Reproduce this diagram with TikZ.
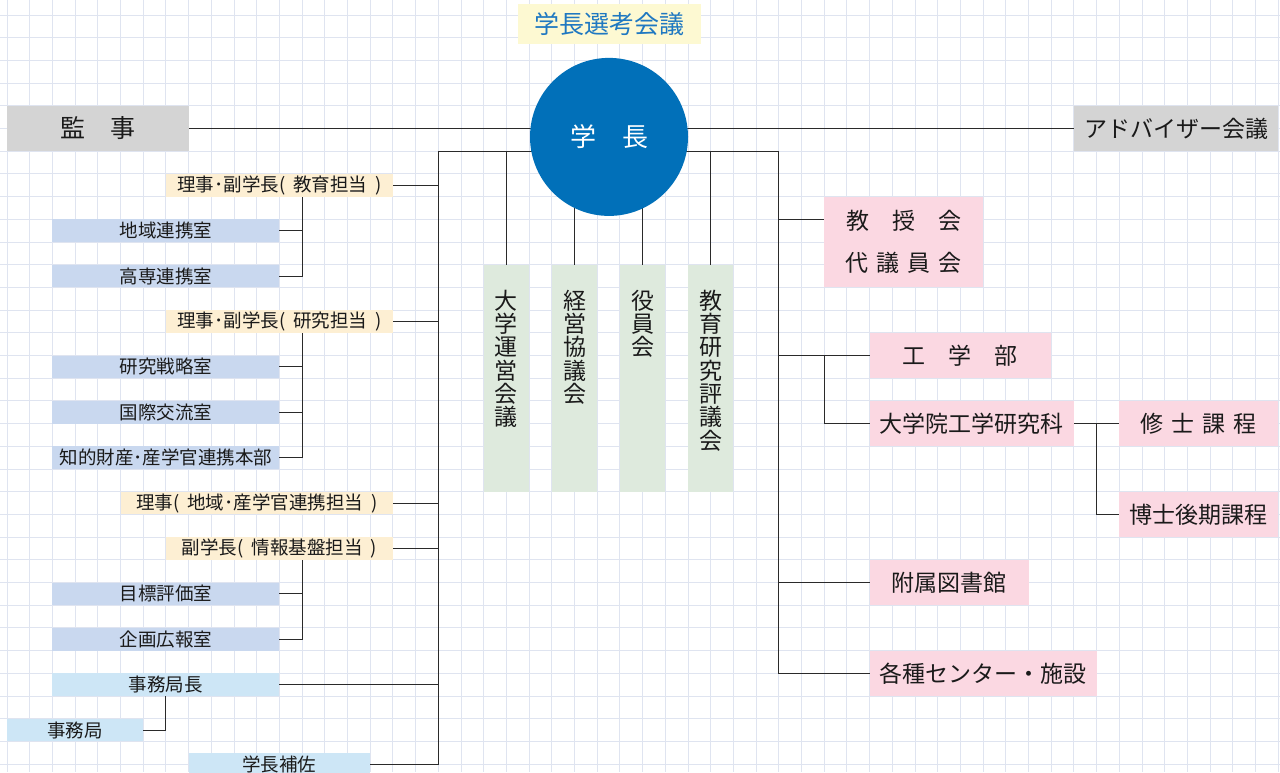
\documentclass[tikz,border=0pt]{standalone}
\usepackage{fontspec}
\setmainfont{Noto Sans CJK JP}
\usetikzlibrary{calc}
\pgfdeclarelayer{gridlayer}
\pgfdeclarelayer{linelayer}
\pgfsetlayers{gridlayer,linelayer,main}
\definecolor{gridc}{HTML}{DFE4F0}
\definecolor{greyc}{HTML}{D4D4D4}
\definecolor{orc}{HTML}{FDEFD3}
\definecolor{bgc}{HTML}{C9D8EF}
\definecolor{lbc}{HTML}{CDE6F6}
\definecolor{grc}{HTML}{DEEADD}
\definecolor{pkc}{HTML}{FBD8E2}
\definecolor{ttlc}{HTML}{FDF9D2}
\definecolor{ttltxt}{HTML}{1F78C1}
\definecolor{circc}{HTML}{0170B9}
\definecolor{txtc}{HTML}{1A1A1A}
\definecolor{linec}{HTML}{2A2A2A}
\newcommand\gbx[6]{\node[#1, minimum width={(#4-#2)*22.7pt}, minimum height={(#5-#3)*22.7pt}] (#6) at ({(#2+#4)/2},{(#3+#5)/2})}
\tikzset{
 bx/.style={inner sep=0pt, outer sep=0pt, text=txtc},
 greyb/.style={bx, fill=greyc, font=\fontsize{25}{30}\selectfont},
 advb/.style={bx, fill=greyc, font=\fontsize{23}{28}\selectfont},
 orb/.style={bx, fill=orc, font={\fontsize{18.5}{22}\selectfont\spaceskip=8pt\relax}},
 bgb/.style={bx, fill=bgc, font=\fontsize{18.5}{22}\selectfont},
 lbb/.style={bx, fill=lbc, font=\fontsize{18.5}{22}\selectfont},
 grb/.style={bx, fill=grc},
 vtxt/.style={inner sep=0pt, align=center, anchor=north, text=txtc, font=\fontsize{23}{23.3}\selectfont},
 pkb/.style={bx, fill=pkc, font=\fontsize{23}{28}\selectfont},
 pkwide/.style={bx, fill=pkc, font={\fontsize{23}{28}\selectfont\spaceskip=8pt\relax}},
 conn/.style={draw=linec, line width=1pt},
 gridl/.style={draw=gridc, line width=1pt},
}
\begin{document}
\begin{tikzpicture}[x=22.7pt,y=-22.7pt]
\useasboundingbox (-0.30837,-0.66079) rectangle (56.0793,33.3480);
\begin{pgfonlayer}{gridlayer}
\fill[white] (-0.30837,-0.66079) rectangle (56.0793,33.3480);
\foreach \i in {0,...,56} \draw[gridl] (\i,-0.66079) -- (\i,33.3480);
\foreach \j in {0,...,33} \draw[gridl] (-0.30837,\j) -- (56.0793,\j);
\end{pgfonlayer}

% top
\node[circle, fill=circc, minimum size=158pt, inner sep=0pt, text=white, font=\fontsize{26}{30}\selectfont] (gakucho) at (26.52,5.37) {学　長};
\gbx{bx, fill=ttlc, text=ttltxt, font=\fontsize{25}{30}\selectfont}{22.49}{-0.48}{30.57}{1.28}{senko} {学長選考会議};
\gbx{greyb}{0}{4}{8}{6}{kanji} {監　事};
\gbx{advb}{47}{4}{56}{6}{adv} {アドバイザー会議};

% left column
\gbx{orb}{7}{7}{17}{8}{rijiA} {理事･副学長( 教育担当 )};
\gbx{bgb}{2}{9}{12}{10}{chiiki} {地域連携室};
\gbx{bgb}{2}{11}{12}{12}{kosen} {高専連携室};
\gbx{orb}{7}{13}{17}{14}{rijiB} {理事･副学長( 研究担当 )};
\gbx{bgb}{2}{15}{12}{16}{kenkyu} {研究戦略室};
\gbx{bgb}{2}{17}{12}{18}{kokusai} {国際交流室};
\gbx{bgb}{2}{19}{12}{20}{chiteki} {知的財産･産学官連携本部};
\gbx{orb}{5}{21}{17}{22}{rijiC} {理事( 地域･産学官連携担当 )};
\gbx{orb}{7}{23}{17}{24}{fuku} {副学長( 情報基盤担当 )};
\gbx{bgb}{2}{25}{12}{26}{mokuhyo} {目標評価室};
\gbx{bgb}{2}{27}{12}{28}{kikaku} {企画広報室};
\gbx{lbb}{2}{29}{12}{30}{jkc} {事務局長};
\gbx{lbb}{0}{31}{6}{32}{jk} {事務局};
\gbx{lbb}{8}{32.5}{16}{33.5}{hosa} {学長補佐};

% green vertical boxes
\gbx{grb}{21}{11}{23}{21}{g1} {};
\gbx{grb}{24}{11}{26}{21}{g2} {};
\gbx{grb}{27}{11}{29}{21}{g3} {};
\gbx{grb}{30}{11}{32}{21}{g4} {};
\node[vtxt] (g1t) at ([yshift=-25pt]g1.north) {大\\学\\運\\営\\会\\議};
\node[vtxt] (g2t) at ([yshift=-25pt]g2.north) {経\\営\\協\\議\\会};
\node[vtxt] (g3t) at ([yshift=-25pt]g3.north) {役\\員\\会};
\node[vtxt] (g4t) at ([yshift=-25pt]g4.north) {教\\育\\研\\究\\評\\議\\会};

% right column
\gbx{pkb, align=center, font={\fontsize{23}{42}\selectfont\spaceskip=8pt\relax}}{36}{8}{43}{12}{kyoju} {教　授　会\\代 議 員 会};
\gbx{pkb}{38}{14}{46}{16}{kogaku} {工　学　部};
\gbx{pkb}{38}{17}{47}{19}{daigakuin} {大学院工学研究科};
\gbx{pkwide}{49}{17}{56}{19}{shushi} {修 士 課 程};
\gbx{pkb}{49}{21}{56}{23}{hakase} {博士後期課程};
\gbx{pkb}{38}{24}{45}{26}{fuzoku} {附属図書館};
\gbx{pkb}{38}{28}{48}{30}{kakushu} {各種センター・施設};

\coordinate (busL) at (19,6);
\coordinate (busR) at (34,6);
\coordinate (cL) at (13,0);
\coordinate (cR) at (36,0);
\coordinate (cD) at (48,0);

\begin{pgfonlayer}{linelayer}
\draw[conn] (kanji.east) -- (kanji.east -| gakucho.center);
\draw[conn] (adv.west) -- (adv.west -| gakucho.center);
\draw[conn] (busL) -- (busR);
\draw[conn] (busL) |- (hosa.east);
\draw[conn] (busR) |- (kakushu.west);
\foreach \n in {rijiA,rijiB,rijiC,fuku,jkc} \draw[conn] (\n.east) -- (\n.east -| busL);
\draw[conn] (rijiA.south -| cL) |- (chiiki.east);
\draw[conn] (rijiA.south -| cL) |- (kosen.east);
\draw[conn] (rijiB.south -| cL) |- (kenkyu.east);
\draw[conn] (rijiB.south -| cL) |- (kokusai.east);
\draw[conn] (rijiB.south -| cL) |- (chiteki.east);
\draw[conn] (fuku.south -| cL) |- (mokuhyo.east);
\draw[conn] (fuku.south -| cL) |- (kikaku.east);
\draw[conn] (jkc.south) |- (jk.east);
\foreach \n in {g1,g2,g3,g4} \draw[conn] (\n.north) -- (\n.north |- busL);
\draw[conn] ([yshift=-22.7pt]kyoju.north west) -- ([yshift=-22.7pt]kyoju.north west -| busR);
\draw[conn] (kogaku.west) -- (kogaku.west -| busR);
\draw[conn] (fuzoku.west) -- (fuzoku.west -| busR);
\draw[conn] (kogaku.west -| cR) |- (daigakuin.west);
\draw[conn] (daigakuin.east) -- (shushi.west);
\draw[conn] (daigakuin.east -| cD) |- (hakase.west);
\end{pgfonlayer}
\end{tikzpicture}
\end{document}
